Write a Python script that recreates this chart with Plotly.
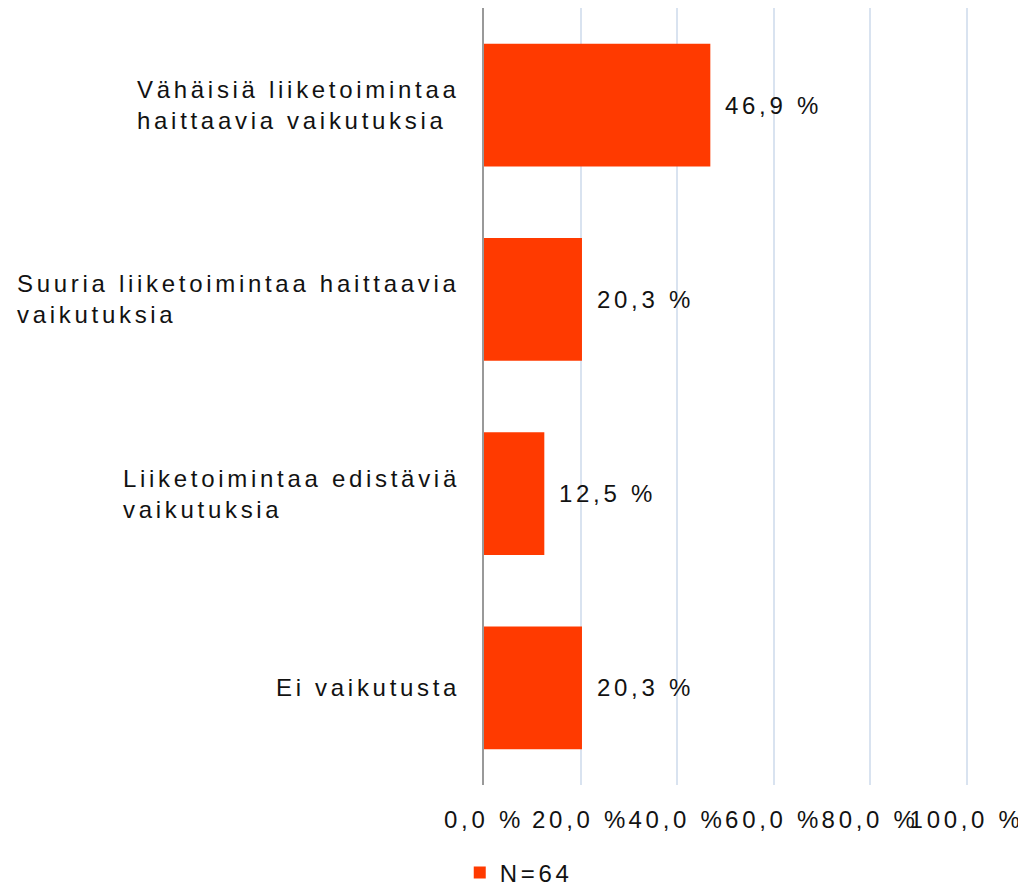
import plotly.graph_objects as go

categories = [
    "Vähäisiä liiketoimintaa<br>haittaavia vaikutuksia",
    "Suuria liiketoimintaa haittaavia<br>vaikutuksia",
    "Liiketoimintaa edistäviä<br>vaikutuksia",
    "Ei vaikutusta",
]
values = [46.9, 20.3, 12.5, 20.3]
series_name = "N=64"
tick_vals = [0, 20, 40, 60, 80, 100]
tick_labels = ["0,0 %", "20,0 %", "40,0 %", "60,0 %", "80,0 %", "100,0 %"]

BAR = "#FF3A00"
FONT = "Liberation Sans, Arial, sans-serif"
TXT = "#111111"
FS = 24

fig = go.Figure()
fig.add_trace(go.Bar(
    y=categories, x=values, orientation="h", name=series_name,
    marker=dict(color=BAR, line=dict(width=0)),
    showlegend=True, hoverinfo="skip",
))

# value labels
for c, v in zip(categories, values):
    fig.add_annotation(
        x=v, y=c, text=f"{v:.1f}".replace(".", ",") + " %",
        xanchor="left", yanchor="middle", showarrow=False, xshift=13,
        font=dict(family=FONT, size=FS, color=TXT),
    )
# category labels (left-aligned lines, block right-aligned to axis)
for c in categories:
    fig.add_annotation(
        x=0, y=c, text=c, align="left",
        xanchor="right", yanchor="middle", showarrow=False, xshift=-22,
        font=dict(family=FONT, size=FS, color=TXT),
    )

fig.update_layout(
    width=1018, height=879,
    margin=dict(l=476, r=57, t=0, b=102, autoexpand=False),
    paper_bgcolor="white", plot_bgcolor="white",
    font=dict(family=FONT, size=FS, color=TXT),
    bargap=0.367,
    showlegend=True,
    legend=dict(orientation="h", x=-0.05, xanchor="left", y=-0.113, yanchor="middle",
                font=dict(family=FONT, size=FS, color=TXT),
                itemwidth=30, bgcolor="rgba(0,0,0,0)"),
)
fig.update_xaxes(
    range=[0, 100.5], tickvals=tick_vals, ticktext=tick_labels,
    tickangle=0,
    showgrid=True, gridcolor="#D9E3F0", gridwidth=1.5,
    zeroline=False, showline=False, ticks="",
    ticklabelstandoff=18, fixedrange=True,
)
fig.update_yaxes(
    autorange="reversed", showline=True, linecolor="#999999", linewidth=2,
    ticks="", showticklabels=False, showgrid=False, fixedrange=True,
)

# Add the wide letter spacing of the original, then re-render so that text
# boxes are measured with it (colour nudged so cached measurements are not reused).
post = """
var s=document.createElement('style');
s.textContent='svg text{letter-spacing:3.7px !important;}';
document.head.appendChild(s);
var gd=document.getElementById('{plot_id}');
var L=JSON.parse(JSON.stringify(gd.layout).split('#111111').join('#121212'));
Plotly.newPlot(gd, gd.data, L, {displayModeBar:false});
"""

fig.write_html("out.html", post_script=post, config={"displayModeBar": False})
